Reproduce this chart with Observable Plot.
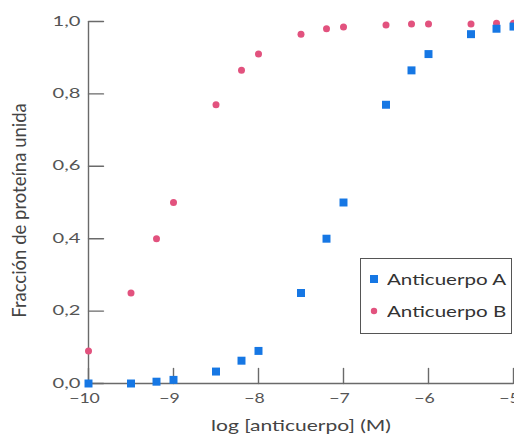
<!DOCTYPE html>
<html>
<head>
<meta charset="utf-8">
<script src="https://cdn.jsdelivr.net/npm/d3@7"></script>
<script src="https://cdn.jsdelivr.net/npm/@observablehq/plot@0.6"></script>
<style>
  html, body { margin: 0; padding: 0; background: #fff; overflow: hidden; }
  #wrap { position: relative; width: 514px; height: 436px; }
  #legend { position: absolute; left: 360px; top: 258px; width: 150px; height: 74px;
    border: 1.3px solid #555; background: #fff; font-family: Lato, sans-serif; font-size: 15px; color: #333; }
  .row { position: absolute; left: 0; height: 20px; line-height: 20px; }
  .row span.t { position: absolute; left: 26px; white-space: nowrap; transform: scaleX(1.37); transform-origin: 0 50%; }
  .mk { position: absolute; }
</style>
</head>
<body>
<div id="wrap"></div>
<script>
const logConc = [-10, -9.5, -9.2, -9, -8.5, -8.2, -8, -7.5, -7.2, -7, -6.5, -6.2, -6, -5.5, -5.2, -5];
const anticuerpoA = [0, 0, 0.005, 0.01, 0.033, 0.063, 0.09, 0.25, 0.40, 0.50, 0.77, 0.865, 0.91, 0.965, 0.98, 0.986];
const anticuerpoB = [0.09, 0.25, 0.40, 0.50, 0.77, 0.865, 0.91, 0.965, 0.98, 0.985, 0.99, 0.993, 0.993, 0.993, 0.995, 0.995];
const seriesNames = ["Anticuerpo A", "Anticuerpo B"];
const xTicks = [-10, -9, -8, -7, -6, -5];
const xTickLabels = ["−10", "−9", "−8", "−7", "−6", "−5"];
const yTicks = [0, 0.2, 0.4, 0.6, 0.8, 1.0];
const yTickLabels = ["0,0", "0,2", "0,4", "0,6", "0,8", "1,0"];
const xLabel = "log [anticuerpo] (M)";
const yLabel = "Fracción de proteína unida";

const colA = "#1677e4";
const colB = "#e2527e";
const axisCol = "#6a6a6a";

const dataA = logConc.map((x, i) => ({x, y: anticuerpoA[i]}));
const dataB = logConc.map((x, i) => ({x, y: anticuerpoB[i]}));

const tickShape = {draw(ctx, l) { ctx.moveTo(0, 0); ctx.lineTo(0, -l); }};

const chart = Plot.plot({
  width: 514,
  height: 436,
  marginLeft: 88,
  marginRight: 1,
  marginTop: 21,
  marginBottom: 53,
  style: {fontFamily: "Lato, sans-serif", background: "#fff", overflow: "visible"},
  x: {domain: [-10, -5], axis: null},
  y: {domain: [0, 1], axis: null},
  marks: [
    Plot.ruleX([-10], {y1: 0, y2: 1, stroke: axisCol, strokeWidth: 1.4}),
    Plot.ruleY([0], {stroke: axisCol, strokeWidth: 1.4}),
    Plot.vector(yTicks, {y: d => d, frameAnchor: "left", rotate: 90, length: 15, anchor: "start", shape: tickShape, stroke: axisCol, strokeWidth: 1.4}),
    Plot.vector(xTicks, {x: d => d, frameAnchor: "bottom", rotate: 0, length: 15, anchor: "start", shape: tickShape, stroke: axisCol, strokeWidth: 1.4}),
    Plot.axisY({ticks: yTicks, tickSize: 0, tickPadding: 8, tickFormat: d => yTickLabels[yTicks.indexOf(d)], fontSize: 13, color: "#555", label: null}),
    Plot.axisX({ticks: xTicks, tickSize: 0, tickPadding: 10, dx: -4, tickFormat: d => xTickLabels[xTicks.indexOf(d)], fontSize: 13, color: "#555", label: null}),
    Plot.text([yLabel], {frameAnchor: "left", dx: -68, dy: 8, rotate: -90, textAnchor: "middle", text: d => d, fontSize: 18.5, fill: "#444"}),
    Plot.text([xLabel], {frameAnchor: "bottom", dy: 47, dx: 0, textAnchor: "middle", text: d => d, fontSize: 14.5, fill: "#444"}),
    Plot.dot(dataB, {x: "x", y: "y", r: 3.5, fill: colB, stroke: "none"}),
    Plot.dot(dataA, {x: "x", y: "y", r: 4.5, symbol: "square", fill: colA, stroke: "none"})
  ]
});

const wrap = document.getElementById("wrap");
wrap.appendChild(chart);

// horizontally widen texts (the reference's lettering is stretched sideways)
function stretchFactor(s) {
  if (yTickLabels.includes(s)) return 1.55;
  if (xTickLabels.includes(s)) return 1.36;
  if (s === xLabel) return 1.45;
  return 1;
}
chart.querySelectorAll("text").forEach(t => {
  const f = stretchFactor(t.textContent.trim());
  if (f === 1) return;
  const x = t.getAttribute("x");
  if (x !== null) t.setAttribute("x", +x / f);
  const tr = t.getAttribute("transform") || "";
  t.setAttribute("transform", tr + ` scale(${f},1)`);
});

const legend = document.createElement("div");
legend.id = "legend";
legend.innerHTML = `
  <div class="row" style="top:10px"><svg class="mk" style="left:8px;top:5px" width="10" height="10"><rect x="1" y="1" width="8" height="8" fill="${colA}"/></svg><span class="t">${seriesNames[0]}</span></div>
  <div class="row" style="top:42px"><svg class="mk" style="left:8px;top:5px" width="10" height="10"><circle cx="5" cy="5" r="3.2" fill="${colB}"/></svg><span class="t">${seriesNames[1]}</span></div>`;
wrap.appendChild(legend);
</script>
</body>
</html>
